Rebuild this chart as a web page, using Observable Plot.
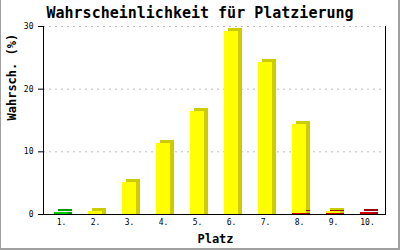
<!DOCTYPE html>
<html><head><meta charset="utf-8">
<script src="https://cdn.jsdelivr.net/npm/d3@7"></script>
<script src="https://cdn.jsdelivr.net/npm/@observablehq/plot@0.6"></script>
<style>
body{margin:0;background:#fff}
#wrap{position:relative;width:400px;height:250px}
#border{position:absolute;left:0;top:0;width:400px;height:250px;box-sizing:border-box;border-left:1px solid #a0a0a0;border-right:2px solid #a0a0a0;border-bottom:2px solid #a0a0a0;pointer-events:none}
</style>
</head><body><div id="wrap"><div id="border"></div></div>
<script>
const platz = ["1.","2.","3.","4.","5.","6.","7.","8.","9.","10."];
const gruen = [0.3,0,0,0,0,0,0,0,0,0];
const rot   = [0,0,0,0,0,0,0,0.2,0.15,0.3];
const gelb  = [0,0.5,5.1,11.3,16.4,29.2,24.2,14.2,0.4,0];
const yTicks = [0,10,20,30];
const title = "Wahrscheinlichkeit für Platzierung";

const front = {gruen:"#00cc00", rot:"#cc0000", gelb:"#ffff00"};
const back  = {gruen:"#009900", rot:"#990000", gelb:"#cccc00"};

const segs = [];
platz.forEach((p,i)=>{
  let y = 0;
  for (const [k, arr] of [["gruen",gruen],["rot",rot],["gelb",gelb]]) {
    const v = arr[i];
    if (v > 0) { segs.push({platz:p, k, y1:y, y2:y+v}); y += v; }
  }
});

const inset = 9.6;
const font = "DejaVu Sans Mono";
const chart = Plot.plot({
  width: 400, height: 250,
  marginLeft: 43, marginRight: 15, marginTop: 26, marginBottom: 36,
  style: {fontFamily: font, color: "black", background: "white"},
  x: {type: "band", domain: platz, padding: 0, label: null},
  y: {domain: [0,30], label: null},
  marks: [
    Plot.ruleY([10,20,30], {stroke:"#bbbbbb", strokeDasharray:"2,4", strokeWidth:1}),
    Plot.barY(segs, {x:"platz", y1:"y1", y2:"y2", fill:d=>back[d.k], dx:4, insetLeft:inset, insetRight:inset, shapeRendering:"crispEdges"}),
    Plot.barY(segs, {x:"platz", y1:"y1", y2:"y2", fill:d=>back[d.k], dx:4, dy:-3, insetLeft:inset, insetRight:inset, shapeRendering:"crispEdges"}),
    Plot.barY(segs, {x:"platz", y1:"y1", y2:"y2", fill:d=>front[d.k], insetLeft:inset, insetRight:inset, shapeRendering:"crispEdges"}),
    Plot.frame({anchor:"left", stroke:"black"}),
    Plot.frame({anchor:"right", stroke:"black"}),
    Plot.frame({anchor:"bottom", stroke:"black"}),
    Plot.axisY({ticks: yTicks, tickSize:5, tickPadding:5, fontSize:8, label:null, stroke:"black"}),
    Plot.axisX({tickSize:0, tickPadding:5, fontSize:8, label:null}),
    Plot.text([title], {frameAnchor:"top", dx:-14.5, dy:-13, fontSize:15, fontWeight:"bold", fill:"black", lineAnchor:"middle"}),
    Plot.text(["Wahrsch. (%)"], {frameAnchor:"left", dx:-31, rotate:-90, fontSize:12, fontWeight:"bold", fill:"black"}),
    Plot.text(["Platz"], {frameAnchor:"bottom", dx:1, dy:25, fontSize:12, fontWeight:"bold", fill:"black", lineAnchor:"middle"})
  ]
});
document.getElementById("wrap").prepend(chart);
</script>
</body></html>
